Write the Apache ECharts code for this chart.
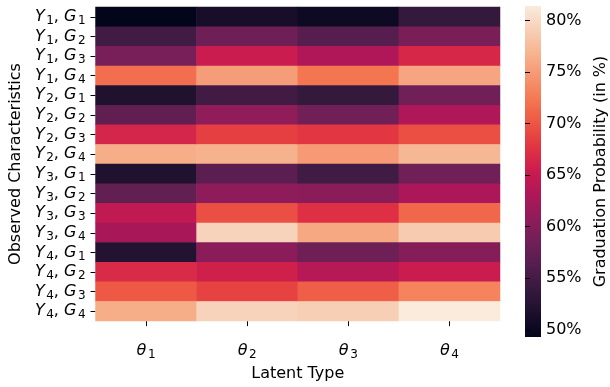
<!DOCTYPE html>
<html>
<head>
<meta charset="utf-8">
<script src="https://cdn.jsdelivr.net/npm/echarts@6/dist/echarts.min.js"></script>
<style>html,body{margin:0;padding:0;background:#fff;}#c{width:610px;height:387px;}</style>
</head>
<body>
<div id="c"></div>
<script>
// Rows (observed characteristics), top to bottom
const rowLabels = ['Y₁, G₁','Y₁, G₂','Y₁, G₃','Y₁, G₄','Y₂, G₁','Y₂, G₂','Y₂, G₃','Y₂, G₄',
                   'Y₃, G₁','Y₃, G₂','Y₃, G₃','Y₃, G₄','Y₄, G₁','Y₄, G₂','Y₄, G₃','Y₄, G₄'];
// Columns (latent types)
const colLabels = ['θ₁','θ₂','θ₃','θ₄'];
// Graduation probability (%) per latent type, rows in order above
const theta1 = [49.3, 54.8, 59.1, 71.7, 52.0, 57.2, 66.3, 76.4, 52.0, 57.4, 64.6, 62.7, 52.3, 66.8, 70.3, 76.4];
const theta2 = [51.3, 58.2, 65.4, 75.1, 54.9, 60.9, 68.5, 76.7, 56.9, 60.7, 69.6, 79.4, 60.4, 65.8, 68.7, 79.4];
const theta3 = [50.4, 56.4, 63.3, 72.2, 53.8, 58.5, 67.9, 74.9, 54.7, 60.4, 67.3, 75.9, 58.2, 63.8, 70.6, 79.0];
const theta4 = [53.8, 59.2, 66.5, 75.7, 58.5, 63.3, 69.6, 77.1, 58.5, 63.0, 71.2, 78.7, 60.0, 65.4, 73.2, 81.4];
const colorbarTicks = [50, 55, 60, 65, 70, 75, 80];
// rocket colormap stops (evenly spaced)
const rocket = ['#03051a','#1c0f2c','#35193e','#531e4d','#701f57','#8f1c5a','#ad1759','#cb1b4f',
                '#e13342','#ed5443','#f37651','#f59570','#f6b48f','#f7d0b6','#faebdd'];

const columns = [theta1, theta2, theta3, theta4];
const data = [];
columns.forEach((col, ci) => col.forEach((v, ri) => data.push([ci, ri, v])));
const all = columns.flat();
const vmin = Math.min(...all), vmax = Math.max(...all);

const FONT = 'DejaVu Sans';
const SUB = { '₁': '1', '₂': '2', '₃': '3', '₄': '4' };
const rich = {
  i: { fontStyle: 'italic', fontFamily: FONT, fontSize: 16, color: '#000', lineHeight: 20, verticalAlign: 'middle' },
  s: { fontFamily: FONT, fontSize: 12, color: '#000', lineHeight: 20, verticalAlign: 'bottom', padding: [0, 0, 0, 1.5] },
  n: { fontFamily: FONT, fontSize: 16, color: '#000', lineHeight: 20, verticalAlign: 'middle' }
};
const fmt = s => s.split('').map(ch => {
  if (SUB[ch]) return '{s|' + SUB[ch] + '}';
  if (/[YGθ]/.test(ch)) return '{i|' + ch + '}';
  return '{n|' + ch + '}';
}).join('');

const G = { left: 94, top: 7, right: 110, bottom: 49 };
const CB = { x: 525, y: 6, w: 16, h: 331 };

const chart = echarts.init(document.getElementById('c'), null, { renderer: 'canvas' });
chart.setOption({
  animation: false,
  backgroundColor: '#fff',
  textStyle: { fontFamily: FONT },
  grid: [
    { left: G.left, top: G.top, right: G.right, bottom: G.bottom },
    { left: CB.x, top: CB.y, width: CB.w, height: CB.h }
  ],
  xAxis: [
    {
      type: 'category', data: colLabels, gridIndex: 0, position: 'bottom',
      axisLine: { show: false },
      axisTick: { show: true, alignWithLabel: true, length: 5, lineStyle: { color: '#000', width: 1 } },
      axisLabel: { interval: 0, formatter: fmt, rich: rich, fontSize: 16, color: '#000', fontFamily: FONT, margin: 20 },
      splitLine: { show: false },
      name: 'Latent Type', nameLocation: 'middle', nameGap: 40,
      nameTextStyle: { fontSize: 16, color: '#000', fontFamily: FONT }
    },
    { type: 'value', gridIndex: 1, show: false, min: 0, max: 1 }
  ],
  yAxis: [
    {
      type: 'category', data: rowLabels, gridIndex: 0, inverse: true,
      axisLine: { show: false },
      axisTick: { show: true, alignWithLabel: true, length: 5, lineStyle: { color: '#000', width: 1 } },
      axisLabel: { interval: 0, formatter: fmt, rich: rich, fontSize: 16, color: '#000', fontFamily: FONT, margin: 10 },
      splitLine: { show: false },
      name: 'Observed Characteristics', nameLocation: 'middle', nameGap: 66, nameRotate: 90,
      nameTextStyle: { fontSize: 16, color: '#000', fontFamily: FONT }
    },
    {
      type: 'value', gridIndex: 1, position: 'right', min: vmin, max: vmax,
      axisLine: { show: false },
      splitLine: { show: false },
      axisTick: { show: true, length: 5, customValues: colorbarTicks, lineStyle: { color: '#000', width: 1 } },
      axisLabel: { customValues: colorbarTicks, formatter: '{value}%', fontSize: 16, color: '#000', fontFamily: FONT, margin: 5 },
      name: 'Graduation Probability (in %)', nameLocation: 'middle', nameGap: 52, nameRotate: 90,
      nameTextStyle: { fontSize: 16, color: '#000', fontFamily: FONT }
    }
  ],
  visualMap: {
    show: false, type: 'continuous', min: vmin, max: vmax, seriesIndex: 0, dimension: 2,
    inRange: { color: rocket }
  },
  graphic: [{
    type: 'rect', z: 0,
    shape: { x: CB.x, y: CB.y, width: CB.w, height: CB.h },
    style: {
      fill: new echarts.graphic.LinearGradient(0, 1, 0, 0,
        rocket.map((c, i) => ({ offset: i / (rocket.length - 1), color: c })))
    }
  }],
  series: [{
    type: 'heatmap', xAxisIndex: 0, yAxisIndex: 0, data: data,
    itemStyle: { borderWidth: 0 },
    emphasis: { disabled: true }, progressive: 0
  }]
});
</script>
</body>
</html>
